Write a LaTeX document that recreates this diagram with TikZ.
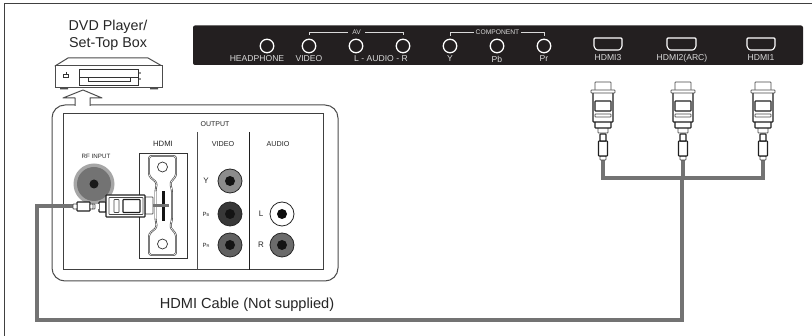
\documentclass[tikz,border=0pt]{standalone}
\usepackage{fontspec}
\setmainfont{Liberation Sans}
\begin{document}
\begin{tikzpicture}[x=1pt,y=-1pt,
  every node/.style={inner sep=0pt,outer sep=0pt},
  lab/.style={text=black!85,font=\fontsize{#1}{#1}\selectfont,anchor=center},
  panellab/.style={text=white!85!black,font=\fontsize{#1}{#1}\selectfont,anchor=center},
  ring/.style={circle,draw=white,line width=1.3pt,minimum size=13.5pt,fill=panelk},
  port/.style={rounded corners=1pt,draw=white,line width=1.1pt},
  brk/.style={draw=white!85!black,line width=.9pt},
  thinl/.style={draw=black!80,line width=.7pt},
  outl/.style={draw=black!70,line width=1pt},
  cable/.style={draw=black!55,line width=4.5pt,line cap=butt,line join=miter},
  plugp/.style={draw=black!72,line width=.8pt,fill=white,rounded corners=.6pt},
  plugd/.style={draw=black!88,line width=1.05pt,fill=white,rounded corners=.6pt}]
\definecolor{panelk}{HTML}{231F20}
\useasboundingbox (0,0) rectangle (812,336);
\fill[white] (0,0) rectangle (812,336);
% frame
\draw[draw=black!75,line width=1pt] (4,336) -- (4,3.5) -- (812,3.5);
% labels
\node[lab=14.3] (dvd1) at (108,27) {DVD Player/};
\node[lab=14.3] (dvd2) at (108,44) {Set-Top Box};
% DVD
\draw[outl,fill=white,line join=round] (55,66) -- (68,58) -- (148,58) -- (162,66) -- cycle;
\draw[outl,fill=white] (55,66) rectangle (162,88);
\fill[black!70] (60,88) rectangle (68,89.5) (150,88) rectangle (158,89.5);
\draw[thinl,fill=white] (79,69) rectangle (138,85);
\draw[thinl] (79,77) -- (88,77) (130,77) -- (138,77);
\draw[thinl] (88,77) rectangle (130,81.5);
\fill[black!85] (140,73) circle (.9) (140,79) circle (.9);
\draw[thinl] (63.5,74) rectangle (68.5,77);
\draw[thinl] (66,72) -- (66,74);
% up arrow + callout
\draw[outl,rounded corners=13pt] (75,105) -- (52,105) -- (52,281) -- (338,281) -- (338,105) -- (90,105);
\draw[outl,line join=round,fill=white] (75,106) -- (75,98) -- (63,98) -- (83,90) -- (102,98) -- (90,98) -- (90,106);
\fill[white] (75.6,103) rectangle (89.4,107);
% panel
\draw[draw=black!75,line width=1pt,fill=white] (63,114) rectangle (323,270);
\draw[draw=black!70,line width=.9pt] (197,132) -- (197,270);
\draw[draw=black!88,line width=.9pt] (249,132) -- (249,270);
\node[lab=7] (outt) at (215,124) {OUTPUT};
\node[lab=7.7] (hdt) at (163,144) {HDMI};
\node[lab=7.2] (vdt) at (223,144) {VIDEO};
\node[lab=7.2] (adt) at (278,144) {AUDIO};
\node[lab=6.2] (rft) at (96,156) {RF INPUT};
% RF
\fill[black!35] (94,184) circle (20.5);
\fill[black!55] (94,184) circle (17);
\fill[black!90] (94,184) circle (4.5);
% HDMI socket
\draw[thinl] (139,153) rectangle (187,258);
\def\sockpath{(149,156) -- (176,156) -- (176,176) -- (170,183) -- (172,190) -- (172,220) -- (170,227) -- (176,234) -- (176,255) -- (149,255) -- (149,234) -- (157,227) -- (155.5,220) -- (155.5,190) -- (157,183) -- (149,176) -- cycle}
\draw[draw=black!80,line width=1.8pt,fill=white,rounded corners=2.5pt] \sockpath;
\draw[draw=white,line width=.6pt,rounded corners=2.5pt] \sockpath;
\draw[thinl,fill=white] (162.5,167) circle (5);
\draw[thinl,fill=white] (162.5,244) circle (5);
\fill[black!92] (162,191) rectangle (165,221);
% jacks
\foreach \n/\x/\y/\a in {y/230/181/45,pb/230/214/78,pr/230/245/62,r/282/245/58}{
  \fill[black!\a] (\x,\y) circle (12);
  \draw[black!85,line width=.8pt] (\x,\y) circle (12);
  \fill[black!92] (\x,\y) circle (5);
}
\draw[black!85,line width=.8pt,fill=white] (282,214) circle (12);
\fill[black!95] (282,214) circle (5);
\node[lab=8] (ly) at (206,181) {Y};
\node[lab=6] (lpb) at (206,214) {P\fontsize{4}{4}\selectfont B};
\node[lab=6] (lpr) at (206,245) {P\fontsize{4}{4}\selectfont R};
\node[lab=8] (ll) at (261,214) {L};
\node[lab=8] (lrr) at (261,245) {R};
% black panel
\node[fill=panelk,rounded corners=2pt,minimum width=610pt,minimum height=39.5pt,anchor=north west] (blk) at (193,25.5) {};
\node[ring] (hp) at (267,46) {};
\node[ring] (vid) at (309,46) {};
\node[ring] (la) at (356,46) {};
\node[ring] (ra) at (403,46) {};
\node[ring] (cy) at (450,46) {};
\node[ring] (cb) at (497,46) {};
\node[ring] (cr) at (544,46) {};
\node[panellab=8.6] (thp) at (257,59) {HEADPHONE};
\node[panellab=8.6] (tvid) at (309,59) {VIDEO};
\node[panellab=8.6] (taud) at (381,59) {L - AUDIO - R};
\node[panellab=8.6] (ty) at (450,59) {Y};
\node[panellab=8.6] (tb) at (497,59) {Pb};
\node[panellab=8.6] (tr) at (544,59) {Pr};
\node[panellab=6.7] (tav) at (356.5,32.5) {AV};
\node[panellab=6.7] (tco) at (497.5,32.5) {COMPONENT};
\draw[brk] (309,35) -- (309,32) -- (348,32);
\draw[brk] (365,32) -- (403,32) -- (403,35);
\draw[brk] (450,36) -- (450,32) -- (474,32);
\draw[brk] (521,32) -- (544,32) -- (544,36);
\foreach \a/\b in {594/622,667/696,747/775}{
  \draw[port] (\a,38) -- (\b,38) -- (\b,47) -- (\b-2.5,50) -- (\a+2.5,50) -- (\a,47) -- cycle;
}
\node[panellab=8.6] (th3) at (608,58) {HDMI3};
\node[panellab=8.6] (th2) at (682,58) {HDMI2(ARC)};
\node[panellab=8.6] (th1) at (761,58) {HDMI1};
% cables
\draw[cable] (93,206) -- (37,206) -- (37,320) -- (682,320) -- (682,178);
\draw[cable] (603,160) -- (603,178) -- (763,178) -- (763,160);
\draw[cable] (683,160) -- (683,180);
% right plugs
\foreach \c in {603,683,763}{
\begin{scope}[shift={(\c,0)}]
\draw[plugp] (-3,156) rectangle (3,160);
\draw[plugd] (-4.5,141) rectangle (4.5,156);
\draw[plugd] (-3,134) rectangle (3,141);
\draw[plugp] (-5,127) rectangle (5,133);
\draw[plugd] (-8,120) rectangle (8,128);
\draw[plugp] (-8,82) rectangle (8,91);
\draw[plugd] (-10,92) rectangle (10,122);
\draw[plugp] (-12,90) rectangle (12,93);
\draw[plugd] (-8,101) rectangle (8,111);
\draw[plugp] (-8,114) rectangle (8,117);
\end{scope}}
% left plug
\draw[plugp] (145,197) rectangle (153,214);
\draw[plugd] (99,202) rectangle (106,212);
\draw[plugd] (106,195) rectangle (145,217);
\draw[plugp] (109,197.5) rectangle (143,214.5);
\draw[plugd] (123,199.5) rectangle (140,212.5);
\draw[plugp] (114,199.5) rectangle (119,212.5);
\fill[white] (93,204) rectangle (99,209);
\draw[plugp] (92,204) rectangle (95,209);
\draw[plugd] (77,202) rectangle (90,211);
\draw[plugp] (73,204) rectangle (77,209);
\draw[plugp] (90,204) rectangle (93,209);
\draw[draw=black!55,line width=3pt] (153,206) -- (169,206);
\node[lab=14.6] (cap) at (247,305) {HDMI Cable (Not supplied)};
\end{tikzpicture}
\end{document}
